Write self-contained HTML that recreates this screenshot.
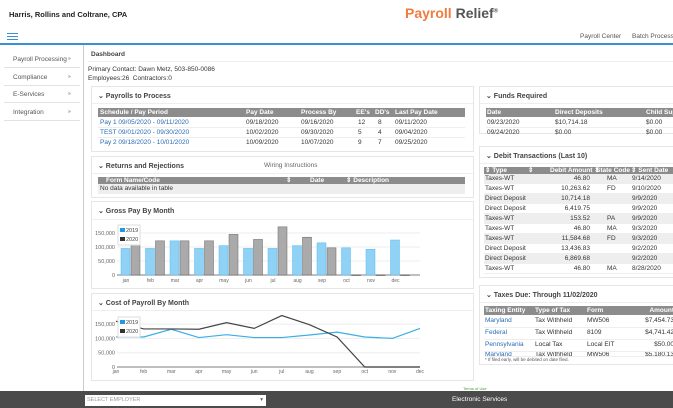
<!DOCTYPE html>
<html><head><meta charset="utf-8"><style>
*{box-sizing:border-box;margin:0;padding:0}
body{width:673px;height:408px;overflow:hidden;background:#fff;font-family:"Liberation Sans",sans-serif;font-size:6.5px;color:#333;position:relative}
.a{position:absolute;white-space:nowrap}
.panel{position:absolute;border:1px solid #e6e6e6;background:#fff}
.ph{position:absolute;left:6px;top:5px;font-weight:bold;font-size:7px;color:#444}
.th{position:absolute;background:#8c8c8c;color:#fff;font-weight:bold;height:9px;line-height:9px}
.row{position:absolute;height:10px;line-height:10px;border-bottom:1px solid #eee}
.lnk{color:#2a6bb5}
.side{position:absolute;left:4px;width:76px;height:17px;line-height:17px;border-bottom:1px solid #e2e2e2;padding-left:9px;color:#555}
.side span{position:absolute;left:64px;font-size:5px}
</style></head><body>
<div class="a" style="left:9px;top:10px;font-weight:bold;font-size:7.5px;color:#222">Harris, Rollins and Coltrane, CPA</div>
<div class="a" style="left:405px;top:5px;font-size:14px;font-weight:bold"><span style="color:#f07c3c">Payroll</span> <span style="color:#555">Relief</span><sup style="font-size:6px;color:#555">®</sup></div>
<div class="a" style="left:7px;top:33px;width:11px;height:7px;border-top:1px solid #3b8fd6;border-bottom:1px solid #3b8fd6"><div style="margin-top:2px;border-top:1px solid #3b8fd6"></div></div>
<div class="a" style="left:580px;top:33px;color:#555">Payroll Center</div>
<div class="a" style="left:632px;top:33px;color:#555">Batch Processing</div>
<div class="a" style="left:0;top:43px;width:673px;height:2px;background:#3b8fd6"></div>
<div class="a" style="left:83px;top:45px;width:1px;height:346px;background:#ccc"></div>
<div class="side" style="top:51px">Payroll Processing<span>»</span></div>
<div class="side" style="top:69px">Compliance<span>»</span></div>
<div class="side" style="top:86px">E-Services<span>»</span></div>
<div class="side" style="top:104px">Integration<span>»</span></div>
<div class="a" style="left:91px;top:51px;font-weight:bold;color:#444">Dashboard</div>
<div class="a" style="left:88px;top:61px;width:585px;height:1px;background:#eee"></div>
<div class="a" style="left:88px;top:66px">Primary Contact: Dawn Metz, 503-850-0086</div>
<div class="a" style="left:88px;top:75px">Employees:26 &nbsp;Contractors:0</div>

<div class="panel" style="left:91px;top:86px;width:383px;height:66px">
<div class="ph">⌄ Payrolls to Process</div>
<div class="a" style="left:0;top:16px;width:381px;height:1px;background:#eee"></div>
<div class="th" style="left:6px;top:21px;width:367px"><span class="a" style="left:2px">Schedule / Pay Period</span><span class="a" style="left:148px">Pay Date</span><span class="a" style="left:203px">Process By</span><span class="a" style="left:258px">EE's</span><span class="a" style="left:277px">DD's</span><span class="a" style="left:297px">Last Pay Date</span></div>
<div class="row" style="left:6px;top:31px;width:367px"><span class="a lnk" style="left:2px">Pay 1 09/05/2020 - 09/11/2020</span><span class="a" style="left:148px">09/18/2020</span><span class="a" style="left:203px">09/16/2020</span><span class="a" style="left:260px">12</span><span class="a" style="left:280px">8</span><span class="a" style="left:297px">09/11/2020</span></div>
<div class="row" style="left:6px;top:41px;width:367px"><span class="a lnk" style="left:2px">TEST 09/01/2020 - 09/30/2020</span><span class="a" style="left:148px">10/02/2020</span><span class="a" style="left:203px">09/30/2020</span><span class="a" style="left:260px">5</span><span class="a" style="left:280px">4</span><span class="a" style="left:297px">09/04/2020</span></div>
<div class="row" style="left:6px;top:51px;width:367px;border:none"><span class="a lnk" style="left:2px">Pay 2 09/18/2020 - 10/01/2020</span><span class="a" style="left:148px">10/09/2020</span><span class="a" style="left:203px">10/07/2020</span><span class="a" style="left:260px">9</span><span class="a" style="left:280px">7</span><span class="a" style="left:297px">09/25/2020</span></div>
</div>

<div class="panel" style="left:91px;top:156px;width:383px;height:42px">
<div class="ph">⌄ Returns and Rejections</div>
<div class="a" style="left:172px;top:5px;color:#666">Wiring Instructions</div>
<div class="a" style="left:0;top:16px;width:381px;height:1px;background:#eee"></div>
<div class="th" style="left:6px;top:20px;width:367px;height:7px;line-height:7px"><span class="a" style="left:8px">Form Name/Code</span><span class="a" style="left:188px">⇕</span><span class="a" style="left:212px">Date</span><span class="a" style="left:248px">⇕ Description</span></div>
<div class="row" style="left:6px;top:27px;width:367px;background:#eee;padding-left:2px">No data available in table</div>
</div>

<div class="panel" style="left:91px;top:201px;width:383px;height:88px">
<div class="ph">⌄ Gross Pay By Month</div>
<div class="a" style="left:0;top:17px;width:381px;height:1px;background:#eee"></div>
</div>
<div class="panel" style="left:91px;top:293px;width:383px;height:88px">
<div class="ph">⌄ Cost of Payroll By Month</div>
<div class="a" style="left:0;top:16px;width:381px;height:1px;background:#eee"></div>
</div>
<svg id="charts" class="a" style="left:0;top:0" width="673" height="408" font-family="Liberation Sans, sans-serif" font-size="5.5"></svg>

<div class="panel" style="left:479px;top:86px;width:200px;height:48px">
<div class="ph">⌄ Funds Required</div>
<div class="a" style="left:0;top:16px;width:200px;height:1px;background:#eee"></div>
<div class="th" style="left:6px;top:21px;width:194px"><span class="a" style="left:1px">Date</span><span class="a" style="left:69px">Direct Deposits</span><span class="a" style="left:160px">Child Support</span></div>
<div class="row" style="left:6px;top:31px;width:194px"><span class="a" style="left:1px">09/23/2020</span><span class="a" style="left:69px">$10,714.18</span><span class="a" style="left:160px">$0.00</span></div>
<div class="row" style="left:6px;top:41px;width:194px;border:none"><span class="a" style="left:1px">09/24/2020</span><span class="a" style="left:69px">$0.00</span><span class="a" style="left:160px">$0.00</span></div>
</div>

<div class="panel" style="left:479px;top:146px;width:200px;height:132px">
<div class="ph">⌄ Debit Transactions (Last 10)</div>
<div class="a" style="left:0;top:16px;width:200px;height:1px;background:#eee"></div>
<div class="th" style="left:4px;top:20px;width:196px;height:7px;line-height:7px"><span class="a" style="left:1px">⇕ Type</span><span class="a" style="left:44px">⇕</span><span class="a" style="left:66px">Debit Amount ⇕</span><span class="a" style="left:112px">State Code</span><span class="a" style="left:147px">⇕ Sent Date</span></div>
<div id="debit"></div>
</div>

<div class="panel" style="left:479px;top:285px;width:200px;height:80px;overflow:hidden">
<div class="ph">⌄ Taxes Due: Through 11/02/2020</div>
<div class="a" style="left:0;top:16px;width:200px;height:1px;background:#eee"></div>
<div class="th" style="left:4px;top:20px;width:192px"><span class="a" style="left:1px">Taxing Entity</span><span class="a" style="left:51px">Type of Tax</span><span class="a" style="left:103px">Form</span><span class="a" style="right:2px">Amount</span></div>
<div class="row" style="left:4px;top:30px;width:192px;height:12px"><span class="a lnk" style="left:1px">Maryland</span><span class="a" style="left:51px">Tax Withheld</span><span class="a" style="left:103px">MW506</span><span class="a" style="right:2px">$7,454.73</span></div>
<div class="row" style="left:4px;top:42px;width:192px;height:12px"><span class="a lnk" style="left:1px">Federal</span><span class="a" style="left:51px">Tax Withheld</span><span class="a" style="left:103px">8109</span><span class="a" style="right:2px">$4,741.42</span></div>
<div class="row" style="left:4px;top:54px;width:192px;height:12px"><span class="a lnk" style="left:1px">Pennsylvania</span><span class="a" style="left:51px">Local Tax</span><span class="a" style="left:103px">Local EIT</span><span class="a" style="right:2px">$50.00</span></div>
<div class="row" style="left:4px;top:66px;width:192px;height:5px;overflow:hidden;line-height:6px"><span class="a lnk" style="left:1px">Maryland</span><span class="a" style="left:51px">Tax Withheld</span><span class="a" style="left:103px">MW506</span><span class="a" style="right:2px">$5,180.13</span></div>
<div class="a" style="left:5px;top:71px;font-size:4.5px;color:#555">* If filed early, will be debited on date filed.</div>
</div>

<div class="a" style="left:463px;top:386px;font-size:4px;color:#4a9a3a">Terms of Use</div>
<div class="a" style="left:0;top:391px;width:673px;height:17px;background:#4b4b4b"></div>
<div class="a" style="left:85px;top:395px;width:181px;height:11px;background:#fff;color:#999;font-size:5.5px;line-height:11px;padding-left:2px">SELECT EMPLOYER<span style="position:absolute;right:3px;color:#555">▾</span></div>
<div class="a" style="left:452px;top:396px;color:#fff;font-size:6.5px">Electronic Services</div>

<script>
const months=["jan","feb","mar","apr","may","jun","jul","aug","sep","oct","nov","dec"];
const gross2019=[95,95,122,95,105,95,95,105,115,97,92,125];
const gross2020=[115,122,122,122,145,127,172,135,97,0,0,0];
const cost2019=[105,105,132,103,113,103,103,112,122,105,100,135];
const cost2020=[160,133,133,132,155,135,180,148,105,0,0,0];
const yTicks=[0,50,100,150];
const tickLabels=["0","50,000","100,000","150,000"];
const debitTypes=["Taxes-WT","Taxes-WT","Direct Deposit","Direct Deposit","Taxes-WT","Taxes-WT","Taxes-WT","Direct Deposit","Direct Deposit","Taxes-WT"];
const debitAmounts=["46.80","10,263.62","10,714.18","6,419.75","153.52","46.80","11,584.68","13,436.83","6,869.68","46.80"];
const debitStates=["MA","FD","","","PA","MA","FD","","","MA"];
const debitDates=["9/14/2020","9/10/2020","9/9/2020","9/9/2020","9/9/2020","9/3/2020","9/3/2020","9/2/2020","9/2/2020","8/28/2020"];

const NS="http://www.w3.org/2000/svg";
const svg=document.getElementById('charts');
function el(t,a,p){const e=document.createElementNS(NS,t);for(const k in a)e.setAttribute(k,a[k]);(p||svg).appendChild(e);return e;}
function txt(x,y,s,a){const e=el('text',Object.assign({x:x,y:y,fill:'#666'},a||{}));e.textContent=s;return e;}

function axes(y0,pxPer,x0,x1,labelY,xs){
  yTicks.forEach((v,i)=>{const y=y0-v*pxPer;
    const g=el('line',{x1:x0,x2:x1,y1:y,y2:y,stroke:i?'#eee':'#999','stroke-width':i?1:1.2});
    
    const t=txt(x0-2,y+2,tickLabels[i],{'text-anchor':'end'});
    });
  months.forEach((m,i)=>{const t=txt(xs(i),labelY,m,{'text-anchor':'middle','font-size':5});
    });
}
function legend(x,y){
  const r=el('rect',{x:x,y:y,width:22,height:20,fill:'#fff',stroke:'#ddd'});
  
  el('rect',{x:x+2,y:y+3,width:5,height:4,fill:'#1e9be8'});
  txt(x+8,y+7,'2019',{fill:'#444'});
  el('rect',{x:x+2,y:y+12,width:5,height:4,fill:'#333'});
  txt(x+8,y+16,'2020',{fill:'#444'});
}
// Gross pay bars
const gY0=275,gPx=14/50,gX=i=>126+i*24.5;
axes(gY0,gPx,117,420,282,gX);
months.forEach((m,i)=>{
  const h1=gross2019[i]*gPx,h2=gross2020[i]*gPx;
  const b1=el('rect',{x:gX(i)-5,y:gY0-h1,width:9,height:h1,fill:'#8fd2f5',stroke:'#5bbcef','stroke-width':0.5});
  
  const b2=el('rect',{x:gX(i)+5,y:gY0-h2,width:9,height:Math.max(h2,0.6),fill:'#aaa',stroke:'#666','stroke-width':0.5});
  
});
legend(118,225);
// Cost lines
const cY0=367,cPx=14.3/50,cX=i=>116+i*(304/11);
axes(cY0,cPx,117,420,373,cX);
const p1=el('polyline',{points:cost2019.map((v,i)=>cX(i)+','+(cY0-v*cPx)).join(' '),fill:'none',stroke:'#3aaee8','stroke-width':1.2});

const p2=el('polyline',{points:cost2020.map((v,i)=>cX(i)+','+(cY0-v*cPx)).join(' '),fill:'none',stroke:'#444','stroke-width':1.2});

legend(118,317);

// Debit table
const d=document.getElementById('debit');
debitTypes.forEach((t,i)=>{
  const r=document.createElement('div');
  r.className='row';
  
  
  r.style.cssText='left:4px;top:'+(27+i*10)+'px;width:196px;background:'+(i%2?'#fff':'#eee');
  r.innerHTML='<span class="a" style="left:1px">'+t+'</span><span class="a" style="right:90px">'+debitAmounts[i]+'</span><span class="a" style="left:123px">'+debitStates[i]+'</span><span class="a" style="left:148px">'+debitDates[i]+'</span>';
  d.appendChild(r);
});
</script>
</body></html>
